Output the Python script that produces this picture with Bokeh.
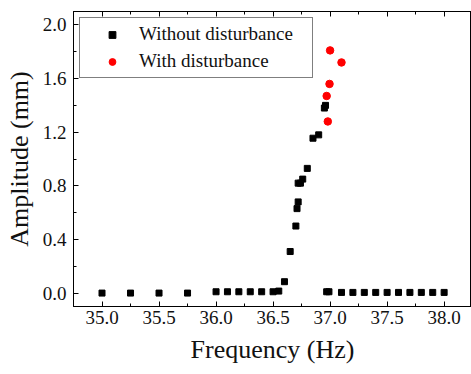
from bokeh.plotting import figure
from bokeh.models import (LinearAxis, FixedTicker, PrintfTickFormatter, Range1d,
                          Legend, LegendItem, CustomJSTickFormatter)
from bokeh.embed import file_html
from bokeh.resources import INLINE

# Data
freq_without = [35.0, 35.25, 35.5, 35.75, 36.0, 36.1, 36.2, 36.3, 36.4, 36.5,
                36.55, 36.6, 36.65, 36.70, 36.71, 36.72, 36.72, 36.74, 36.76,
                36.80, 36.85, 36.90, 36.95, 36.96, 36.97, 36.99,
                37.1, 37.2, 37.3, 37.4, 37.5, 37.6, 37.7, 37.8, 37.9, 38.0]
amp_without = [0.0, 0.0, 0.0, 0.0, 0.01, 0.01, 0.01, 0.01, 0.01, 0.01,
               0.015, 0.085, 0.31, 0.50, 0.63, 0.68, 0.82, 0.82, 0.85,
               0.93, 1.155, 1.18, 1.38, 1.40, 0.01, 0.01,
               0.005, 0.005, 0.005, 0.005, 0.005, 0.005, 0.005, 0.005, 0.005, 0.005]
freq_with = [36.98, 36.97, 36.995, 37.0, 37.1]
amp_with = [1.28, 1.47, 1.56, 1.81, 1.72]

x_major = [35.0, 35.5, 36.0, 36.5, 37.0, 37.5, 38.0]
x_minor = [34.75, 35.25, 35.75, 36.25, 36.75, 37.25, 37.75]
y_major = [0.0, 0.4, 0.8, 1.2, 1.6, 2.0]
y_minor = [0.2, 0.6, 1.0, 1.4, 1.8]

FONT = "Liberation Serif"

p = figure(width=471, height=374, output_backend="svg", toolbar_location=None,
           x_range=Range1d(34.75, 38.24), y_range=Range1d(-0.1, 2.1),
           min_border_left=73, min_border_right=0, min_border_top=11,
           min_border_bottom=68,
           x_axis_label="Frequency (Hz)", y_axis_label="Amplitude (mm)")
p.grid.visible = False
p.outline_line_color = "black"
p.outline_line_width = 1
p.background_fill_color = "white"
p.border_fill_color = "white"

xt = FixedTicker(ticks=x_major, minor_ticks=x_minor)
yt = FixedTicker(ticks=y_major, minor_ticks=y_minor)


def style(ax, ticker, labels=True):
    ax.ticker = ticker
    ax.axis_line_color = "black"
    ax.major_tick_line_color = "black"
    ax.minor_tick_line_color = "black"
    ax.major_tick_in = 5
    ax.major_tick_out = 0
    ax.minor_tick_in = 3
    ax.minor_tick_out = 0
    if labels:
        ax.formatter = PrintfTickFormatter(format="%.1f")
        ax.major_label_text_font = FONT
        ax.major_label_text_font_size = "19px"
        ax.major_label_text_color = "#111111"
        ax.axis_label_text_font = FONT
        ax.axis_label_text_font_size = "26px"
        ax.axis_label_text_font_style = "normal"
        ax.axis_label_text_color = "#111111"
    else:
        ax.formatter = CustomJSTickFormatter(code="return ''")
        ax.major_label_text_font_size = "1px"
        ax.major_label_standoff = 0


style(p.xaxis[0], xt)
p.xaxis[0].major_label_standoff = 4
p.xaxis[0].axis_label_standoff = 8
style(p.yaxis[0], yt)
p.yaxis[0].major_label_standoff = 7
p.yaxis[0].axis_label_standoff = 6

top_ax = LinearAxis()
style(top_ax, xt, labels=False)
p.add_layout(top_ax, "above")

r1 = p.scatter(freq_without, amp_without, marker="square", size=6,
               fill_color="black", line_color="black")
r2 = p.scatter(freq_with, amp_with, marker="circle", size=7.5,
               fill_color="red", line_color="red")

legend = Legend(items=[LegendItem(label="Without disturbance", renderers=[r1]),
                       LegendItem(label="With disturbance", renderers=[r2])],
                location="top_left", margin=6, padding=5, spacing=5,
                glyph_width=54, glyph_height=17, label_height=20,
                label_standoff=0, label_width=168,
                label_text_font=FONT, label_text_font_size="19px",
                label_text_color="#111111",
                border_line_color="black", border_line_width=1,
                background_fill_alpha=1.0)
p.add_layout(legend)

open("out.html", "w").write(file_html(p, INLINE))
